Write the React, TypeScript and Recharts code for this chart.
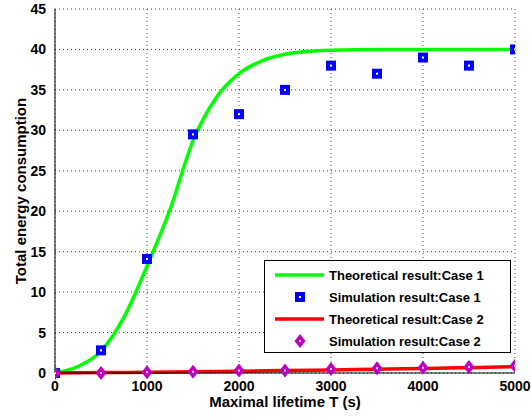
import {
  ComposedChart,
  Line,
  Scatter,
  XAxis,
  YAxis,
  CartesianGrid,
  Label,
} from "recharts";

const xTicks = [0, 1000, 2000, 3000, 4000, 5000];
const yTicks = [0, 5, 10, 15, 20, 25, 30, 35, 40, 45];

// theoretical curve, case 1
const theoryX1 = [0, 250, 500, 750, 1000, 1250, 1500, 1750, 2000, 2250, 2500, 2750, 3000, 3500, 4000, 4500, 5000];
const theoryY1 = [0, 0.8, 2.7, 6.9, 13.2, 20.2, 28.7, 34, 37, 38.6, 39.4, 39.75, 39.9, 40, 40, 40, 40];

// theoretical curve, case 2
const theoryX2 = [0, 500, 1000, 1500, 2000, 2500, 3000, 3500, 4000, 4500, 5000];
const theoryY2 = [0, 0.05, 0.1, 0.16, 0.23, 0.3, 0.38, 0.47, 0.56, 0.66, 0.78];

// simulation points
const simX = [0, 500, 1000, 1500, 2000, 2500, 3000, 3500, 4000, 4500, 5000];
const simY1 = [0, 2.8, 14.1, 29.5, 32, 35, 38, 37, 39, 38, 40];
const simY2 = [0, 0, 0.1, 0.15, 0.3, 0.3, 0.5, 0.6, 0.65, 0.75, 0.9];

const theory1 = theoryX1.map((x, i) => ({ x, y: theoryY1[i] }));
const theory2 = theoryX2.map((x, i) => ({ x, y: theoryY2[i] }));
const sim1 = simX.map((x, i) => ({ x, y: simY1[i] }));
const sim2 = simX.map((x, i) => ({ x, y: simY2[i] }));

const GREEN = "#00ff00";
const RED = "#ff0000";
const BLUE = "#0000ff";
const MAGENTA = "#bf00bf";
const FONT = "'Liberation Sans', Arial, sans-serif";

const SquareMark = (props: any) => {
  const { cx, cy } = props;
  if (cx == null || cy == null) return null;
  return (
    <g>
      <rect x={cx - 5} y={cy - 5} width={10} height={10} fill={BLUE} />
      <rect x={cx - 1} y={cy - 1} width={2} height={2} fill="#fff" />
    </g>
  );
};

const DiamondMark = (props: any) => {
  const { cx, cy } = props;
  if (cx == null || cy == null) return null;
  return (
    <g>
      <path d={`M${cx},${cy - 7} L${cx + 5.5},${cy} L${cx},${cy + 7} L${cx - 5.5},${cy} Z`} fill={MAGENTA} />
      <rect x={cx - 1} y={cy - 1} width={2} height={2} fill="#fff" opacity={0.8} />
    </g>
  );
};

const legendRows = [
  { kind: "line", color: GREEN, text: "Theoretical result:Case 1" },
  { kind: "square", color: BLUE, text: "Simulation result:Case 1" },
  { kind: "line", color: RED, text: "Theoretical result:Case 2" },
  { kind: "diamond", color: MAGENTA, text: "Simulation result:Case 2" },
];

function LegendBox() {
  return (
    <div
      style={{
        position: "absolute",
        left: 264,
        top: 260,
        width: 247,
        height: 93,
        border: "1.5px solid #000",
        background: "#fff",
        fontFamily: FONT,
        fontWeight: "bold",
        fontSize: 13,
        paddingTop: 3,
        boxSizing: "border-box",
      }}
    >
      {legendRows.map((r) => (
        <div key={r.text} style={{ display: "flex", alignItems: "center", height: 22 }}>
          <svg width={64} height={16} style={{ flex: "none" }}>
            {r.kind === "line" && <line x1={10} x2={59} y1={8} y2={8} stroke={r.color} strokeWidth={3.5} />}
            {r.kind === "square" && <SquareMark cx={35} cy={8} />}
            {r.kind === "diamond" && <DiamondMark cx={35} cy={8} />}
          </svg>
          <span style={{ color: "#000" }}>{r.text}</span>
        </div>
      ))}
    </div>
  );
}

const tickStyle = { fill: "#000", fontSize: 14, fontWeight: "bold", fontFamily: FONT };
const labelStyle = { fill: "#000", fontSize: 15, fontWeight: "bold", fontFamily: FONT, textAnchor: "middle" };
const noLabel = () => <g />;

export default function App() {
  return (
    <div style={{ position: "absolute", left: 0, top: 0, width: 531, height: 418, background: "#fff" }}>
      <ComposedChart width={531} height={418} margin={{ top: 9, right: 16, bottom: 0, left: 0 }}>
        <CartesianGrid stroke="#444" strokeDasharray="1 3" />
        {/* inward tick marks on the bottom and left edges */}
        <XAxis
          xAxisId="b2"
          orientation="bottom"
          mirror
          type="number"
          dataKey="x"
          domain={[0, 5000]}
          ticks={xTicks}
          height={0}
          tick={noLabel}
          tickSize={5}
          tickLine={{ stroke: "#000" }}
          axisLine={false}
        />
        <XAxis
          type="number"
          dataKey="x"
          domain={[0, 5000]}
          ticks={xTicks}
          allowDataOverflow
          height={45}
          tick={tickStyle}
          tickLine={false}
          tickMargin={2}
          axisLine={{ stroke: "#000" }}
        >
          <Label value="Maximal lifetime T (s)" position="insideBottom" offset={11} style={labelStyle} />
        </XAxis>
        <XAxis
          xAxisId="top"
          orientation="top"
          mirror
          type="number"
          dataKey="x"
          domain={[0, 5000]}
          ticks={xTicks}
          height={0}
          tick={noLabel}
          tickSize={5}
          tickLine={{ stroke: "#000" }}
          axisLine={{ stroke: "#000" }}
        />
        <YAxis
          yAxisId="l2"
          orientation="left"
          mirror
          type="number"
          domain={[0, 45]}
          ticks={yTicks}
          width={0}
          tick={noLabel}
          tickSize={5}
          tickLine={{ stroke: "#000" }}
          axisLine={false}
        />
        <YAxis
          type="number"
          domain={[0, 45]}
          ticks={yTicks}
          width={55}
          tick={tickStyle}
          tickLine={false}
          tickMargin={3}
          axisLine={{ stroke: "#000" }}
        >
          <Label value="Total energy consumption" angle={-90} position="insideLeft" offset={21} style={labelStyle} />
        </YAxis>
        <YAxis
          yAxisId="right"
          orientation="right"
          mirror
          type="number"
          domain={[0, 45]}
          ticks={yTicks}
          width={0}
          tick={noLabel}
          tickSize={5}
          tickLine={{ stroke: "#000" }}
          axisLine={{ stroke: "#000" }}
        />
        <Line
          data={theory1}
          dataKey="y"
          type="monotone"
          stroke={GREEN}
          strokeWidth={3.5}
          dot={false}
          isAnimationActive={false}
        />
        <Line
          data={theory2}
          dataKey="y"
          type="monotone"
          stroke={RED}
          strokeWidth={3.5}
          dot={false}
          isAnimationActive={false}
        />
        <Scatter data={sim1} dataKey="y" shape={SquareMark} isAnimationActive={false} />
        <Scatter data={sim2} dataKey="y" shape={DiamondMark} isAnimationActive={false} />
      </ComposedChart>
      <LegendBox />
    </div>
  );
}
